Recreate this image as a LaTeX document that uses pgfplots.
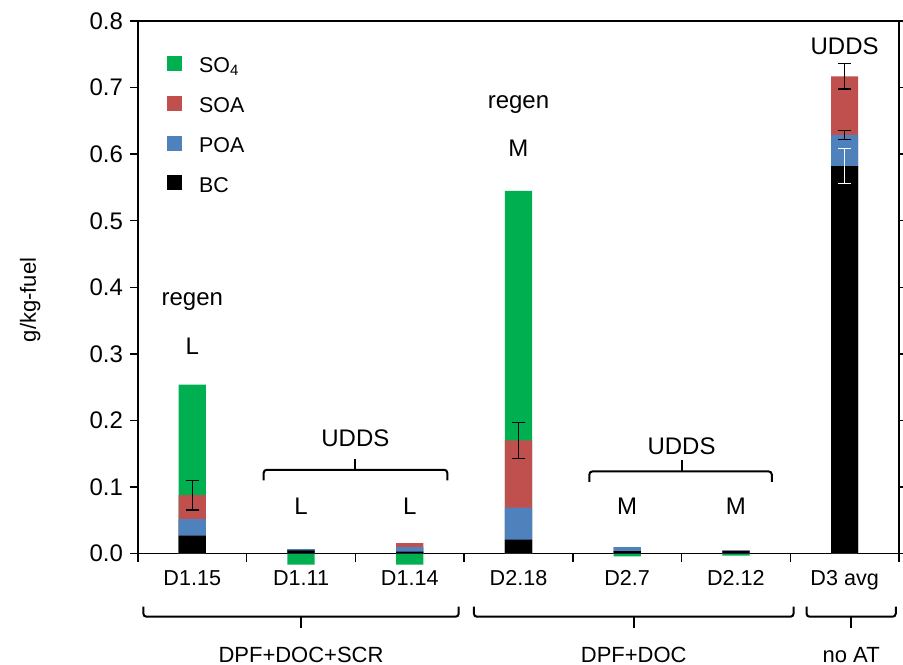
\documentclass[border=0pt]{standalone}
\usepackage{fontspec}
\setmainfont{Liberation Sans}
\usepackage{pgfplots}
\pgfplotsset{compat=1.18}
\usetikzlibrary{calc}
\definecolor{cSO}{HTML}{00B050}
\definecolor{cSOA}{HTML}{C0504D}
\definecolor{cPOA}{HTML}{4F81BD}
\begin{document}
\begin{tikzpicture}
\begin{axis}[
  scale only axis, width=380.75pt, height=266.5pt,
  xmin=-0.5, xmax=6.5, ymin=0, ymax=0.8,
  enlarge x limits=false,
  ybar, bar width=0.25, bar shift=0pt,
  clip=false,
  axis line style={line width=0.7pt},
  tick style={line width=0.7pt, black},
  tick align=outside,
  major tick length=4pt,
  xtick={-0.5,0.5,1.5,2.5,3.5,4.5,5.5,6.5},
  x tick label as interval,
  xticklabels={D1.15,D1.11,D1.14,D2.18,D2.7,D2.12,D3 avg},
  xticklabel style={font=\fontsize{10.8}{12}\selectfont, yshift=-1pt},
  xtick pos=bottom,
  ytick={0,0.1,0.2,0.3,0.4,0.5,0.6,0.7,0.8},
  ytick pos=both, yticklabel pos=left,
  /pgf/number format/assume math mode=true,
  yticklabel style={/pgf/number format/fixed, /pgf/number format/fixed zerofill, /pgf/number format/precision=1, font=\fontsize{12}{14}\selectfont},
  ylabel={g/kg-fuel},
  ylabel style={at={(axis description cs:-0.1417,0.4765)}, anchor=center, font=\fontsize{11}{13}\selectfont},
  legend style={draw=none, fill=none, at={(axis description cs:0.038,0.94)}, anchor=north west, font=\fontsize{10.7}{12}\selectfont, row sep=7pt, inner sep=0pt},
  legend cell align=left,
  legend image code/.code={\fill[#1] (0pt,-2.2pt) rectangle (7.5pt,5.3pt); \path[draw=none, fill=none] (7.5pt,0pt) rectangle (14pt,0.1pt);},
]
\coordinate (O) at (rel axis cs:0,0);
\coordinate (T) at (rel axis cs:1,1);
% stacked tops drawn from total down to bottom segment
\addplot[fill=cSO, draw=none] coordinates {(0,0.254) (1,-0.0165) (2,-0.0165) (3,0.545) (4,-0.004) (5,-0.003)};
\addlegendentry{SO\textsubscript{4}}
\addplot[fill=cSOA, draw=none] coordinates {(0,0.088) (1,0.007) (2,0.016) (3,0.170) (4,0.010) (5,0.005) (6,0.717)};
\addlegendentry{SOA}
\addplot[fill=cPOA, draw=none] coordinates {(0,0.052) (1,0.007) (2,0.010) (3,0.069) (4,0.010) (5,0.005) (6,0.629)};
\addlegendentry{POA}
\addplot[fill=black, draw=none] coordinates {(0,0.027) (1,0.005) (2,0.003) (3,0.021) (4,0.004) (5,0.004) (6,0.582)};
\addlegendentry{BC}
% error bars
\addplot[forget plot, draw=none, fill=none,
  error bars/.cd, y dir=both, y explicit,
  error bar style={draw=black, line width=0.6pt},
  error mark options={draw=black, line width=0.6pt, mark size=3.3pt, rotate=90}]
  coordinates {(0,0.088) +- (0,0.0225) (3,0.170) +- (0,0.0275) (6,0.717) +- (0,0.019) (6,0.629) +- (0,0.007)};
\addplot[forget plot, draw=none, fill=none,
  error bars/.cd, y dir=both, y explicit,
  error bar style={draw=white, line width=0.6pt},
  error mark options={draw=white, line width=0.6pt, mark size=3.3pt, rotate=90}]
  coordinates {(6,0.582) +- (0,0.026)};
% annotations
\tikzset{lab/.style={font=\fontsize{12}{14}\selectfont}, brace/.style={line width=1pt, rounded corners=1.5pt}}
\node[lab] at (axis cs:0,0.378) {regen};
\node[lab] at (axis cs:0,0.312) {L};
\node[lab] at (axis cs:3,0.675) {regen};
\node[lab] at (axis cs:3,0.609) {M};
\node[lab] at (axis cs:6,0.7625) {UDDS};
\node[lab] at (axis cs:1,0.0705) {L};
\node[lab] at (axis cs:2,0.0705) {L};
\node[lab] at (axis cs:4,0.0705) {M};
\node[lab] at (axis cs:5,0.0705) {M};
\node[lab] at (axis cs:1.5,0.174) {UDDS};
\node[lab] at (axis cs:4.5,0.161) {UDDS};
\draw[brace] (axis cs:0.657,0.110) |- (axis cs:2.345,0.126) -- (axis cs:2.345,0.110);
\draw[brace] (axis cs:1.5,0.126) -- (axis cs:1.5,0.142);
\draw[brace] (axis cs:3.652,0.108) |- (axis cs:5.33,0.1235) -- (axis cs:5.33,0.108);
\draw[brace] (axis cs:4.5,0.1235) -- (axis cs:4.5,0.141);
% group braces below
\draw[brace] (axis cs:-0.45,-0.0795) |- (axis cs:2.45,-0.0946) -- (axis cs:2.45,-0.0795);
\draw[brace] (axis cs:1,-0.0946) -- (axis cs:1,-0.111);
\draw[brace] (axis cs:2.59,-0.0795) |- (axis cs:5.53,-0.0946) -- (axis cs:5.53,-0.0795);
\draw[brace] (axis cs:4.06,-0.0946) -- (axis cs:4.06,-0.111);
\draw[brace] (axis cs:5.65,-0.0795) |- (axis cs:6.47,-0.0946) -- (axis cs:6.47,-0.0795);
\draw[brace] (axis cs:6.06,-0.0946) -- (axis cs:6.06,-0.111);
\node[font=\fontsize{11}{13}\selectfont] at (axis cs:1,-0.152) {DPF+DOC+SCR};
\node[font=\fontsize{11}{13}\selectfont] at (axis cs:4.06,-0.152) {DPF+DOC};
\node[font=\fontsize{11}{13}\selectfont] at (axis cs:6.06,-0.152) {no AT};
\end{axis}
\pgfresetboundingbox
\path[use as bounding box] ($(O)+(-69pt,-55.5pt)$) rectangle ($(T)+(2pt,10.5pt)$);
\end{tikzpicture}
\end{document}
